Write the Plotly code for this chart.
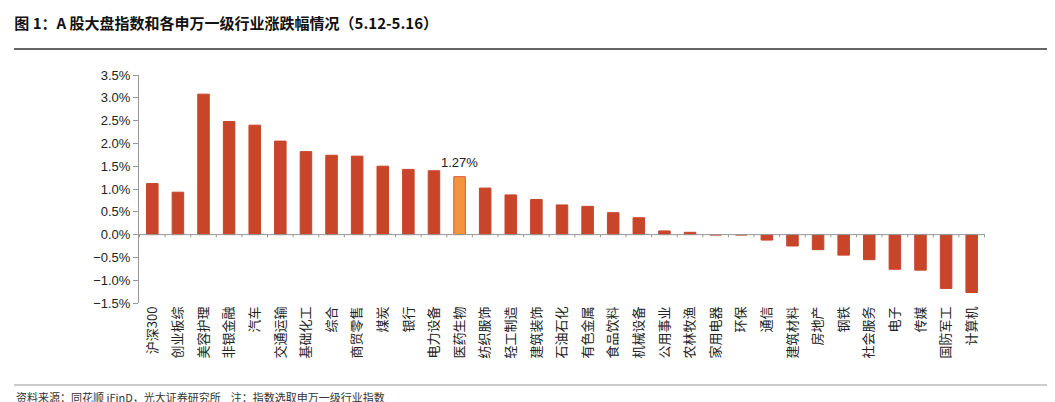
import plotly.graph_objects as go

industries = ["沪深300", "创业板综", "美容护理", "非银金融", "汽车", "交通运输", "基础化工", "综合",
              "商贸零售", "煤炭", "银行", "电力设备", "医药生物", "纺织服饰", "轻工制造", "建筑装饰",
              "石油石化", "有色金属", "食品饮料", "机械设备", "公用事业", "农林牧渔", "家用电器", "环保",
              "通信", "建筑材料", "房地产", "钢铁", "社会服务", "电子", "传媒", "国防军工", "计算机"]
changes = [1.12, 0.93, 3.08, 2.48, 2.40, 2.05, 1.82, 1.74, 1.72, 1.50, 1.43, 1.40, 1.27, 1.02,
           0.87, 0.77, 0.65, 0.62, 0.48, 0.37, 0.08, 0.05, -0.01, -0.01, -0.12, -0.25, -0.33,
           -0.45, -0.55, -0.76, -0.78, -1.18, -1.27]
highlight = "医药生物"

colors = ["#f39440" if c == highlight else "#c9452a" for c in industries]
lines = ["#d9562f" if c == highlight else "#c9452a" for c in industries]

W, H = 1055, 402
L, R, T, B = 131, 78, 67, 107
pw, ph = W - L - R, H - T - B


def px(x):
    return (x - L) / pw


def py(y):
    return (H - B - y) / ph


fig = go.Figure()
fig.add_trace(go.Bar(x=industries, y=changes, marker=dict(color=colors, line=dict(color=lines, width=1)),
                     width=0.45))
hi = industries.index(highlight)
fig.add_annotation(x=industries[hi], y=changes[hi], text=f"{changes[hi]:.2f}%", showarrow=False,
                   yshift=14, font=dict(family="Liberation Sans, Arial", size=13, color="#222"))

fig.update_layout(
    width=W, height=H, margin=dict(l=L, r=R, t=T, b=B, autoexpand=False),
    plot_bgcolor="white", paper_bgcolor="white", showlegend=False,
    font=dict(family="Noto Sans CJK SC, Arial", size=12, color="#222"),
    title=dict(text="<b>图 1：A 股大盘指数和各申万一级行业涨跌幅情况（5.12-5.16）</b>", x=0.006, xanchor="left",
               y=0.975, yanchor="top", automargin=False, font=dict(size=15, color="#111")),
    xaxis=dict(showline=False, ticks="", tickangle=-90, automargin=False,
               tickfont=dict(size=13, color="#222")),
    yaxis=dict(range=[-1.5, 3.5], dtick=0.5, tickformat=".1f", ticksuffix="%", showgrid=False,
               zeroline=False, showline=True, linecolor="#999", ticks="outside", ticklen=5,
               tickcolor="#999", automargin=False,
               tickfont=dict(family="Liberation Sans, Arial", size=13, color="#222")),
)
# zero line with category separator ticks
fig.add_shape(type="line", xref="paper", yref="y", x0=0, x1=1, y0=0, y1=0, line=dict(color="#999", width=1))
for i in range(len(industries) + 1):
    fig.add_shape(type="line", xref="x", yref="y", x0=i - 0.5, x1=i - 0.5, y0=0, y1=-0.06,
                  line=dict(color="#999", width=1))
fig.add_shape(type="line", xref="paper", yref="paper", x0=px(6), x1=px(1049), y0=py(41), y1=py(41),
              line=dict(color="#333", width=1.5))
fig.add_shape(type="line", xref="paper", yref="paper", x0=px(6), x1=px(1049), y0=py(377), y1=py(377),
              line=dict(color="#999", width=1))
fig.add_annotation(xref="paper", yref="paper", x=px(6), y=py(389), xanchor="left", yanchor="middle",
                   showarrow=False, text="资料来源：同花顺 iFinD，光大证券研究所    注：指数选取申万一级行业指数",
                   font=dict(size=11, color="#333"))
fig.write_html("out.html")
